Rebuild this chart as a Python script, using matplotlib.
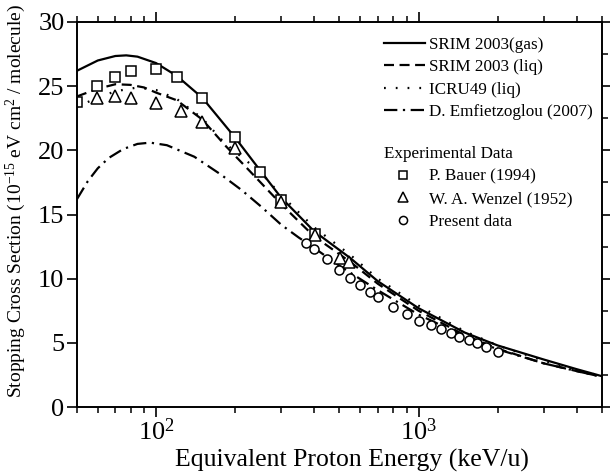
import matplotlib
matplotlib.use("Agg")
import matplotlib.pyplot as plt
from matplotlib.ticker import LogLocator, MultipleLocator, NullFormatter

plt.rcParams['font.family'] = ['Liberation Serif', 'DejaVu Serif']
plt.rcParams['mathtext.fontset'] = 'custom'
plt.rcParams['mathtext.rm'] = 'Liberation Serif'
plt.rcParams['mathtext.it'] = 'Liberation Serif:italic'
plt.rcParams['mathtext.bf'] = 'Liberation Serif:bold'

# SRIM 2003 (gas)
srim_gas_e = [50, 60, 70, 77, 85, 100, 120, 150, 200, 250, 300, 400, 550, 700, 1000, 1500, 2000, 3000, 4000, 5000]
srim_gas_s = [26.2, 27.0, 27.35, 27.4, 27.3, 26.8, 25.8, 24.1, 21.0, 18.4, 16.3, 13.7, 11.6, 9.8, 7.7, 5.8, 4.8, 3.7, 2.95, 2.4]

# SRIM 2003 (liq)
srim_liq_e = [50, 60, 70, 80, 90, 100, 120, 150, 185, 220, 300, 400, 550, 700, 1000, 1500, 2000, 3000, 4000, 5000]
srim_liq_s = [24.2, 24.8, 25.15, 25.1, 24.9, 24.5, 23.9, 22.4, 20.3, 18.7, 15.8, 13.3, 11.3, 9.6, 7.5, 5.6, 4.55, 3.4, 2.8, 2.35]

# ICRU49 (liq)
icru_e = [50, 60, 70, 85, 100, 120, 150, 180, 200, 250, 300, 400, 550, 700, 1000, 1500, 2000, 3000, 4000, 5000]
icru_s = [23.4, 24.1, 24.6, 24.9, 24.7, 24.0, 22.5, 20.7, 19.9, 18.3, 16.5, 14.0, 11.85, 10.0, 7.9, 5.9, 4.8, 3.6, 2.9, 2.4]

# D. Emfietzoglou (2007)
emf_e = [50, 55, 60, 66, 75, 85, 95, 110, 140, 177, 212, 252, 300, 350, 400, 500, 700, 1000, 1500, 2000, 3000, 4000, 5000]
emf_s = [16.2, 17.6, 18.6, 19.4, 20.1, 20.5, 20.6, 20.4, 19.5, 18.1, 16.9, 15.6, 14.2, 13.2, 12.4, 11.0, 9.1, 7.2, 5.5, 4.5, 3.4, 2.8, 2.35]

# experimental data
bauer_e = [50, 59.4, 69.6, 80, 100, 120, 150, 200, 250, 300, 403]
bauer_s = [23.8, 25.0, 25.7, 26.2, 26.3, 25.7, 24.1, 21.0, 18.3, 16.1, 13.5]

wenzel_e = [59.4, 69.6, 80, 100, 125, 150, 200, 300, 403, 502, 545]
wenzel_s = [24.1, 24.2, 24.1, 23.7, 23.1, 22.2, 20.2, 16.0, 13.4, 11.6, 11.3]

present_e = [372, 400, 448, 498, 549, 600, 655, 703, 802, 900, 1000, 1111, 1214, 1326, 1423, 1555, 1668, 1807, 2009]
present_s = [12.8, 12.3, 11.5, 10.7, 10.05, 9.5, 9.0, 8.6, 7.8, 7.25, 6.7, 6.4, 6.1, 5.8, 5.45, 5.2, 5.0, 4.7, 4.3]

fig = plt.figure(figsize=(6.1, 4.72), dpi=100)
ax = fig.add_axes([0.1262, 0.1377, 0.8607, 0.8157])

lw = 1.6
l1, = ax.plot(srim_gas_e, srim_gas_s, color='black', lw=lw, ls='-')
l2, = ax.plot(srim_liq_e, srim_liq_s, color='black', lw=lw, ls=(0, (4.5, 2.5)))
l3, = ax.plot(icru_e, icru_s, color='black', lw=lw, ls=(0, (0.8, 4.5)))
l4, = ax.plot(emf_e, emf_s, color='black', lw=lw, ls=(0, (6, 2.5, 1, 2.5)))

m1, = ax.plot(bauer_e, bauer_s, ls='none', marker='s', ms=6.5, mfc='white', mec='black', mew=1.1)
m2, = ax.plot(wenzel_e, wenzel_s, ls='none', marker='^', ms=8, mfc='white', mec='black', mew=1.1)
m3, = ax.plot(present_e, present_s, ls='none', marker='o', ms=6.5, mfc='white', mec='black', mew=1.1)

ax.set_xscale('log')
ax.set_xlim(50, 5000)
ax.set_ylim(0, 30)

ax.xaxis.set_major_locator(LogLocator(base=10, numticks=10))
ax.xaxis.set_minor_locator(LogLocator(base=10, subs=range(2, 10), numticks=20))
ax.xaxis.set_minor_formatter(NullFormatter())
ax.yaxis.set_major_locator(MultipleLocator(5))
ax.yaxis.set_minor_locator(MultipleLocator(2.5))

ax.tick_params(which='major', direction='out', length=7, width=1.2, labelsize=19,
               top=True, right=True, pad=1)
ax.tick_params(which='minor', direction='out', length=4, width=1.1, top=True, right=True)
ax.tick_params(axis='y', which='minor', left=False, right=True)
ax.tick_params(axis='y', which='major', right=True, length=7, pad=2)
for sp in ax.spines.values():
    sp.set_linewidth(1.4)

ax.set_xlabel('Equivalent Proton Energy (keV/u)', fontsize=18.5)
ax.xaxis.set_label_coords(0.524, -0.108)
ax.set_ylabel(r'Stopping Cross Section (10$^{-15}$ eV cm$^{2}$ / molecule)', fontsize=14)
ax.yaxis.set_label_coords(-0.093, 0.535)

leg1 = ax.legend([l1, l2, l3, l4],
                 ['SRIM 2003(gas)', 'SRIM 2003 (liq)', 'ICRU49 (liq)', 'D. Emfietzoglou (2007)'],
                 loc='upper left', bbox_to_anchor=(0.585, 0.962), frameon=False,
                 fontsize=12.3, handlelength=2.4, handletextpad=0.2, labelspacing=0.38,
                 borderpad=0, borderaxespad=0)
ax.add_artist(leg1)

ax.legend([m1, m2, m3], ['P. Bauer (1994)', 'W. A. Wenzel (1952)', 'Present data'],
          title='Experimental Data', title_fontsize=12.3, alignment='left',
          loc='upper left', bbox_to_anchor=(0.585, 0.677), frameon=False,
          fontsize=12.3, handlelength=2.25, handletextpad=0.35, labelspacing=0.38,
          borderpad=0, borderaxespad=0, markerscale=0.9)

fig.savefig('out.png', dpi=100)
